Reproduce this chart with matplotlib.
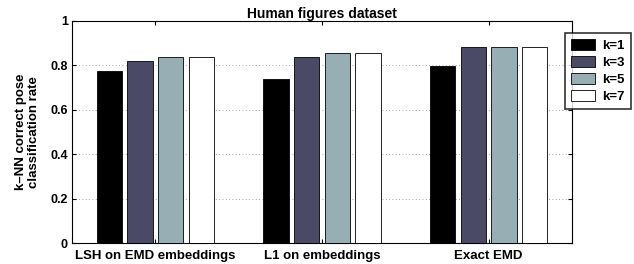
import numpy as np
import matplotlib
matplotlib.use("Agg")
import matplotlib.pyplot as plt

plt.rcParams['font.family'] = ['Liberation Sans', 'DejaVu Sans']
plt.rcParams['font.weight'] = 'bold'

methods = ["LSH on EMD embeddings", "L1 on embeddings", "Exact EMD"]
k_labels = ["k=1", "k=3", "k=5", "k=7"]
rate_k1 = [0.775, 0.740, 0.798]
rate_k3 = [0.822, 0.840, 0.884]
rate_k5 = [0.840, 0.858, 0.884]
rate_k7 = [0.840, 0.858, 0.884]
colors = ["#000000", "#4a4a66", "#97aeb4", "#ffffff"]

fig = plt.figure(figsize=(6.34, 2.64), dpi=100)
ax = fig.add_axes([72/634, 21/264, 500/634, 222/264])

x = np.arange(1, len(methods) + 1)
series = [rate_k1, rate_k3, rate_k5, rate_k7]
step = 0.184
for i, vals in enumerate(series):
    ax.bar(x + (i - 1.5) * step, vals, width=0.152, color=colors[i],
           edgecolor="black", linewidth=0.6, label=k_labels[i], zorder=3)

ax.set_xlim(0.5, 3.5)
ax.set_ylim(0, 1)
ax.set_xticks(x)
ax.set_xticklabels(methods, fontsize=9.5)
ax.set_yticks([0, 0.2, 0.4, 0.6, 0.8, 1])
ax.set_yticklabels(["0", "0.2", "0.4", "0.6", "0.8", "1"], fontsize=9)
ax.yaxis.grid(True, linestyle=(0, (1, 3)), color="#888888", linewidth=0.6, zorder=0)
ax.tick_params(direction="in", top=True, right=True, length=3, pad=3)
ax.tick_params(axis="x", pad=5)
for s in ax.spines.values():
    s.set_linewidth(0.8)

ax.set_title("Human figures dataset", fontsize=10, fontweight="bold", pad=2)
ax.set_ylabel("k\u2013NN correct pose\nclassification rate", fontsize=9.5, fontweight="bold",
              labelpad=7, linespacing=1.15)

leg = ax.legend(loc="upper left", bbox_to_anchor=(0.986, 0.945), borderaxespad=0,
                fontsize=9.5, frameon=True, fancybox=False, edgecolor="black",
                handlelength=1.8, handleheight=0.9, labelspacing=0.3,
                borderpad=0.45, handletextpad=0.6)
leg.get_frame().set_linewidth(1.2)
leg.set_zorder(5)

fig.savefig("out.png", dpi=100)
